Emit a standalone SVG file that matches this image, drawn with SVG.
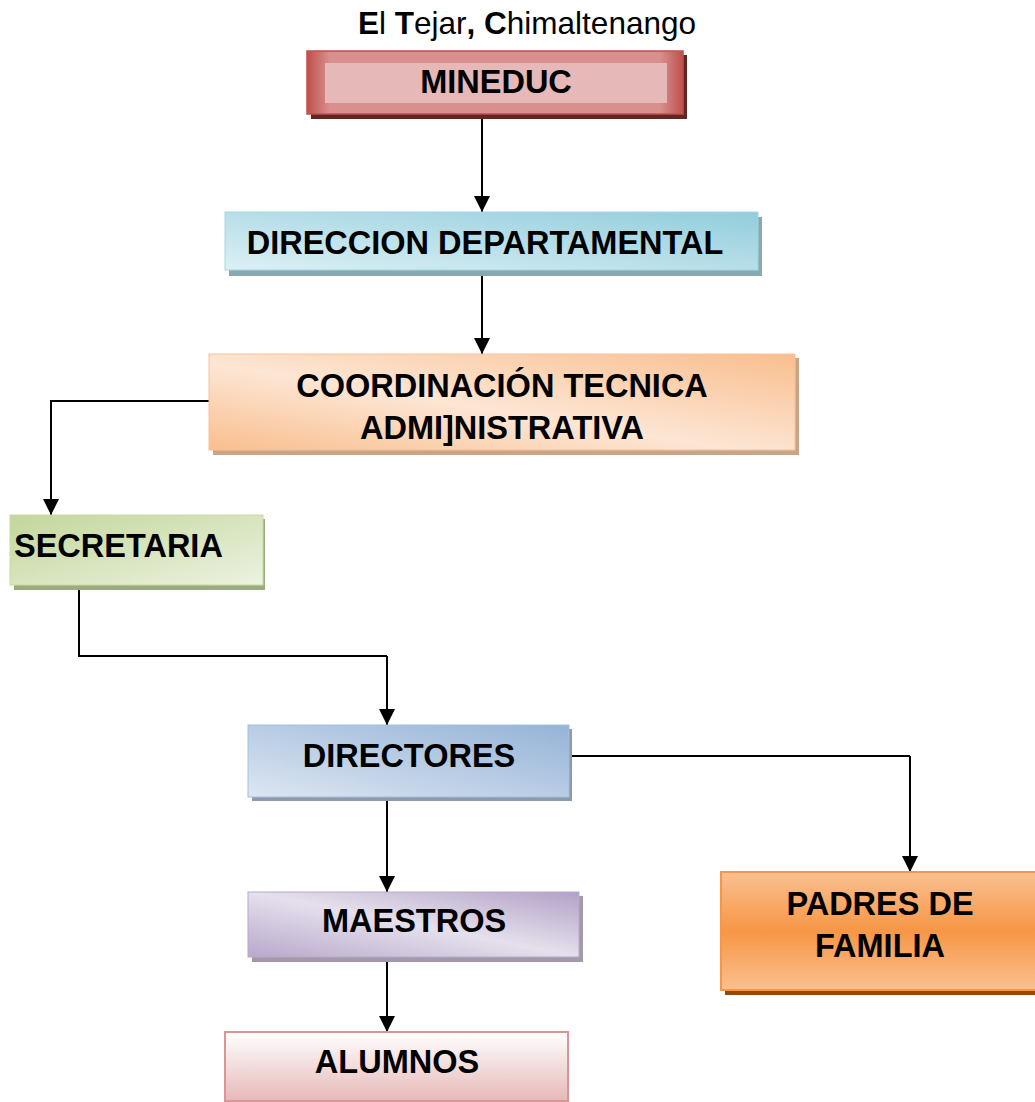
<svg xmlns="http://www.w3.org/2000/svg" width="1035" height="1102" viewBox="0 0 1035 1102">
<defs>
<linearGradient id="gRed" x1="0" y1="0" x2="1" y2="0">
<stop offset="0" stop-color="#c0504d"/><stop offset="0.06" stop-color="#d88f8d"/><stop offset="0.94" stop-color="#d88f8d"/><stop offset="1" stop-color="#c0504d"/>
</linearGradient>
<linearGradient id="gBlue" x1="1" y1="0" x2="0" y2="1">
<stop offset="0" stop-color="#92cddc"/><stop offset="1" stop-color="#dcf0f5"/>
</linearGradient>
<linearGradient id="gOrange" x1="0" y1="1" x2="1" y2="0">
<stop offset="0" stop-color="#f9be8e"/><stop offset="0.45" stop-color="#fde6d4"/><stop offset="1" stop-color="#f9be8e"/>
</linearGradient>
<linearGradient id="gGreen" x1="0" y1="0" x2="1" y2="1">
<stop offset="0" stop-color="#c3d69b"/><stop offset="1" stop-color="#ecf2e0"/>
</linearGradient>
<linearGradient id="gSteel" x1="1" y1="0" x2="0" y2="1">
<stop offset="0" stop-color="#95b3d7"/><stop offset="1" stop-color="#dce6f2"/>
</linearGradient>
<linearGradient id="gPurple" x1="1" y1="0" x2="0" y2="1">
<stop offset="0" stop-color="#b2a1c7"/><stop offset="0.5" stop-color="#e5e0ec"/><stop offset="1" stop-color="#b8a8cc"/>
</linearGradient>
<linearGradient id="gPadres" x1="0" y1="0" x2="0" y2="1">
<stop offset="0" stop-color="#fac090"/><stop offset="0.5" stop-color="#f79646"/><stop offset="1" stop-color="#fac090"/>
</linearGradient>
<linearGradient id="gPink" x1="0" y1="0" x2="0" y2="1">
<stop offset="0" stop-color="#ffffff"/><stop offset="1" stop-color="#e6b9b8"/>
</linearGradient>
<marker id="arr" markerWidth="16" markerHeight="16" refX="16" refY="8" orient="auto" markerUnits="userSpaceOnUse" viewBox="0 0 16 16">
<path d="M0,0 L16,8 L0,16 Z" fill="#000"/>
</marker>
</defs>
<style>
.t{font-family:"Liberation Sans",Arial,sans-serif;font-weight:bold;font-size:32.5px;fill:#000;text-anchor:middle}
.c{fill:none;stroke:#000;stroke-width:2}
.a{marker-end:url(#arr)}
</style>
<rect width="1035" height="1102" fill="#fff"/>
<text x="527" y="34" font-family="Liberation Sans, Arial, sans-serif" font-size="31.5" text-anchor="middle" fill="#000"><tspan font-weight="bold">E</tspan>l <tspan font-weight="bold">T</tspan>ejar<tspan font-weight="bold">,</tspan> <tspan font-weight="bold">C</tspan>himaltenango</text>

<g id="connectors">
<path class="c a" d="M482,115 V212"/>
<path class="c a" d="M482,271 V354"/>
<path class="c a" d="M209,401 H51 V515"/>
<path class="c" d="M79,586 V656 H387"/>
<path class="c a" d="M387,656 V725"/>
<path class="c" d="M569,756 H910"/>
<path class="c a" d="M910,756 V872"/>
<path class="c a" d="M387,798 V892"/>
<path class="c a" d="M387,959 V1032"/>
</g>

<g id="mineduc">
<rect x="311" y="55" width="376" height="64" fill="#632523"/>
<rect x="307" y="51" width="376" height="63" fill="url(#gRed)" stroke="#c0504d" stroke-width="1.5"/>
<rect x="325" y="63" width="342" height="40" fill="#e6b8b7"/>
<text class="t" x="496" y="93">MINEDUC</text>
</g>

<g id="direccion">
<rect x="229" y="217" width="533" height="59" fill="#87a9b2"/>
<rect x="225" y="212" width="533" height="58" fill="url(#gBlue)" stroke="#a5d5e2" stroke-width="1"/>
<text class="t" x="485" y="254">DIRECCION DEPARTAMENTAL</text>
</g>

<g id="coordinacion">
<rect x="213" y="358" width="586" height="97" fill="#c9a487"/>
<rect x="209" y="354" width="586" height="96" fill="url(#gOrange)" stroke="#f9c197" stroke-width="1"/>
<text class="t" x="502" y="397">COORDINACIÓN TECNICA</text>
<text class="t" x="502" y="439">ADMI]NISTRATIVA</text>
</g>

<g id="secretaria">
<rect x="14" y="519" width="251" height="71" fill="#9caa80"/>
<rect x="10" y="515" width="253" height="70" fill="url(#gGreen)" stroke="#c9dba6" stroke-width="1"/>
<text class="t" x="14" y="557" style="text-anchor:start">SECRETARIA</text>
</g>

<g id="directores">
<rect x="252" y="729" width="320" height="72" fill="#8c9aab"/>
<rect x="248" y="725" width="321" height="72" fill="url(#gSteel)" stroke="#a4bfdd" stroke-width="1"/>
<text class="t" x="409" y="767">DIRECTORES</text>
</g>

<g id="padres">
<rect x="725" y="876" width="315" height="119" fill="#984807"/>
<rect x="721" y="872" width="320" height="118" fill="url(#gPadres)" stroke="#f79646" stroke-width="2"/>
<text class="t" x="880" y="915">PADRES DE</text>
<text class="t" x="880" y="957">FAMILIA</text>
</g>

<g id="maestros">
<rect x="252" y="896" width="331" height="66" fill="#a29aa9"/>
<rect x="248" y="892" width="331" height="65" fill="url(#gPurple)" stroke="#b9a9cd" stroke-width="1"/>
<text class="t" x="414" y="932">MAESTROS</text>
</g>

<g id="alumnos">
<rect x="225" y="1032" width="343" height="69" fill="url(#gPink)" stroke="#d99694" stroke-width="2"/>
<text class="t" x="397" y="1073">ALUMNOS</text>
</g>
</svg>
